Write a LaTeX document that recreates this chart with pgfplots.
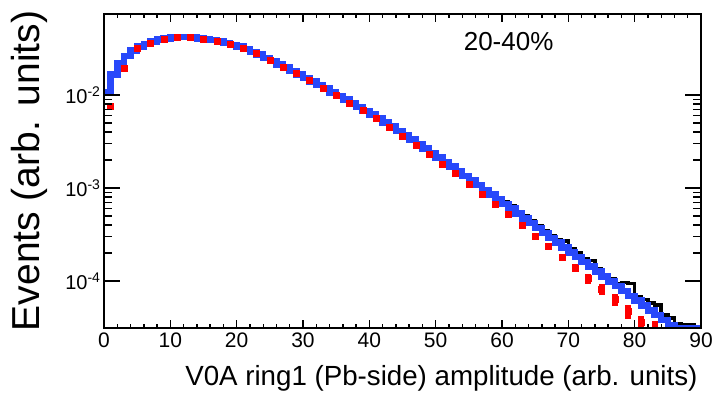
\documentclass[border=0pt]{standalone}
\usepackage{pgfplots}
\pgfplotsset{compat=1.18}
\usepackage{fontspec}
\setmainfont{Liberation Sans}
\usetikzlibrary{calc}
\definecolor{rootblue}{RGB}{40,72,250}
\definecolor{rootred}{RGB}{255,0,0}

\begin{document}
\begin{tikzpicture}
\begin{axis}[name=ax,
  scale only axis, width=597bp, height=314bp,
  xmin=0, xmax=90, ymode=log, ymin=3.13e-5, ymax=0.0743,
  axis line style={line width=2bp},
  tick style={line width=1.4bp, black},
  tick align=inside,
  xtick={0,10,...,90}, minor x tick num=4,
  major tick length=8bp, minor tick length=4.5bp,
  ytick=\empty, yminorticks=false,
  /pgf/number format/assume math mode=true,
  xticklabel style={font=\fontsize{21bp}{25bp}\selectfont, yshift=-1bp},
  every axis x label/.style={at={(axis description cs:1,-0.1847)},anchor=base east},
  xlabel={\fontsize{27.7bp}{32bp}\selectfont V0A ring1 (Pb-side) amplitude (arb. units)},
]
% black histogram (data)
\addplot[black, line width=3.5bp, const plot] coordinates {
(0,0.01080)(1,0.01650)(2,0.02195)(3,0.02620)(4,0.03030)(5,0.03300)(6,0.03560)(7,0.03750)(8,0.03945)(9,0.04070)
(10,0.04155)(11,0.04180)(12,0.04195)(13,0.04145)(14,0.04080)(15,0.03975)(16,0.03895)(17,0.03750)(18,0.03620)(19,0.03460)
(20,0.03320)(21,0.03120)(22,0.02925)(23,0.02705)(24,0.02520)(25,0.02310)(26,0.02145)(27,0.01960)(28,0.01820)(29,0.01660)
(30,0.01535)(31,0.01395)(32,0.01285)(33,0.01165)(34,0.01075)(35,0.00975)(36,0.00896)(37,0.00810)(38,0.00746)(39,0.00673)
(40,0.00622)(41,0.00555)(42,0.00510)(43,0.00455)(44,0.00416)(45,0.00368)(46,0.00338)(47,0.00298)(48,0.00272)(49,0.00239)
(50,0.00218)(51,0.00192)(52,0.00172)(53,0.00153)(54,0.00137)(55,0.00122)(56,0.00110)(57,0.00098)(58,0.00088)(59,0.00079)
(60,0.00071)(61,0.00064)(62,0.00056)(63,0.00050)(64,0.000445)(65,0.000395)(66,0.000345)(67,0.000310)(68,0.000280)(69,0.000270)
(70,0.000220)(71,0.000200)(72,0.000175)(73,0.000166)(74,0.000135)(75,0.000118)(76,0.000106)(77,0.000094)(78,0.000096)(79,0.000094)
(80,0.000068)(81,0.000063)(82,0.000058)(83,0.000055)(84,0.000043)(85,0.000040)(86,0.000035)(87,0.000034)(88,0.000034)(89,0.0000313)
(90,0.0000313)
};
% red markers
\addplot[rootred, only marks, mark=square*, mark size=3bp,
  error bars/.cd, y dir=both, y explicit relative, error mark=none,
  error bar style={line width=6bp, rootred}]
  table[x=x, y=y, y error=e] {
x y e
1 0.0076 0
3 0.0195 0
5 0.0316 0
7 0.0365 0
9 0.0400 0
11 0.0417 0
13 0.0417 0
15 0.0403 0
17 0.0382 0
19 0.0354 0
21 0.0322 0
23 0.0281 0
25 0.0236 0
27 0.0200 0
29 0.0170 0
31 0.0143 0
33 0.01195 0
35 0.00995 0
37 0.00826 0
39 0.00684 0
41 0.00560 0
43 0.00453 0
45 0.00364 0
47 0.00291 0
49 0.00231 0.01
51 0.00182 0.015
53 0.00143 0.02
55 0.00111 0.03
57 0.000861 0.03
59 0.000668 0.04
61 0.000518 0.05
63 0.000398 0.06
65 0.000306 0.07
67 0.000235 0.08
69 0.000181 0.09
71 0.000139 0.10
73 0.000107 0.12
75 0.0000824 0.13
77 0.0000634 0.15
79 0.0000476 0.17
81 0.0000358 0.19
83 0.0000310 0.2
};
% blue histogram
\addplot[rootblue, line width=6.5bp, const plot] coordinates {
(0,0.01072)(1,0.01660)(2,0.02188)(3,0.02630)(4,0.03020)(5,0.03311)(6,0.03548)(7,0.03758)(8,0.03936)(9,0.04074)
(10,0.04150)(11,0.04188)(12,0.04188)(13,0.04150)(14,0.04074)(15,0.03981)(16,0.03890)(17,0.03758)(18,0.03614)(19,0.03467)
(20,0.03311)(21,0.03126)(22,0.02917)(23,0.02710)(24,0.02512)(25,0.02317)(26,0.02138)(27,0.01968)(28,0.01811)(29,0.01663)
(30,0.01528)(31,0.01400)(32,0.01279)(33,0.01169)(34,0.01069)(35,0.00977)(36,0.00891)(37,0.00813)(38,0.00741)(39,0.00676)
(40,0.00617)(41,0.00558)(42,0.00505)(43,0.00456)(44,0.00411)(45,0.00370)(46,0.00333)(47,0.00299)(48,0.00267)(49,0.00239)
(50,0.00214)(51,0.001905)(52,0.001698)(53,0.001514)(54,0.001349)(55,0.001202)(56,0.001072)(57,0.000955)(58,0.000851)(59,0.000759)
(60,0.000676)(61,0.000600)(62,0.000532)(63,0.000472)(64,0.000419)(65,0.000372)(66,0.000330)(67,0.000292)(68,0.000259)(69,0.000230)
(70,0.000204)(71,0.000181)(72,0.000161)(73,0.000143)(74,0.000126)(75,0.000112)(76,0.0000995)(77,0.0000883)(78,0.0000783)(79,0.0000695)
(80,0.0000617)(81,0.0000547)(82,0.0000485)(83,0.0000431)(84,0.0000382)(85,0.0000339)(86,0.0000313)(87,0.0000313)(88,0.0000313)(89,0.0000313)
(90,0.0000313)
};
\node[font=\fontsize{26bp}{30bp}\selectfont, anchor=center] at (axis cs:61,0.038) {20-40\%};
\end{axis}
\begin{axis}[
  scale only axis, width=597bp, height=314bp,
  xmin=0, xmax=90, ymode=log, ymin=3.13e-5, ymax=0.0743,
  axis line style={line width=2bp},
  tick style={line width=1.4bp, black},
  tick align=inside,
  xtick=\empty, xminorticks=false,
  ytick={1e-4,1e-3,1e-2},
  yticklabels={10\textsuperscript{-4},10\textsuperscript{-3},10\textsuperscript{-2}},
  major tick length=16bp, minor tick length=8bp,
  yticklabel style={font=\fontsize{20bp}{24bp}\selectfont},
  every axis y label/.style={at={(axis description cs:-0.1256,0.5)},rotate=90,anchor=center},
  ylabel={\fontsize{39bp}{44bp}\selectfont Events (arb. units)},
]
\addplot[draw=none] coordinates {(1,0.001)};
\end{axis}
\path ($(ax.south west)+(-104bp,-67bp)$) rectangle ($(ax.north east)+(17bp,14bp)$);
\end{tikzpicture}
\end{document}
